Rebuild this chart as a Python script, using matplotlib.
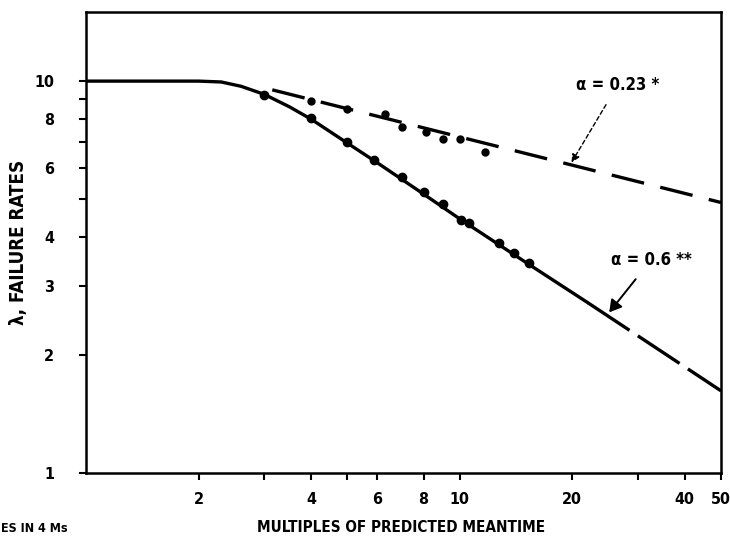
import matplotlib.pyplot as plt
from matplotlib.ticker import FixedLocator, NullFormatter, FixedFormatter

# fitted curve, alpha = 0.6 (solid part, then projected)
fit6_x = [1, 1.5, 2, 2.3, 2.6, 3, 3.5, 4, 5, 6, 8, 10, 15, 22]
fit6_y = [10, 10, 10, 9.95, 9.7, 9.25, 8.6, 8.0, 6.95, 6.2, 5.15, 4.45, 3.45, 2.72]
proj6_x = [22, 50]
proj6_y = [2.72, 1.62]

# fitted line, alpha = 0.23
fit23_x = [3.15, 50]
fit23_y = [9.5, 4.9]

# observed failure rates
obs6_x = [3.0, 4.0, 5.0, 5.9, 7.0, 8.0, 9.0, 10.1, 10.6, 12.7, 14.0, 15.3]
obs6_y = [9.2, 8.05, 7.0, 6.3, 5.7, 5.2, 4.85, 4.42, 4.34, 3.86, 3.64, 3.43]
obs23_x = [4.0, 5.0, 6.3, 7.0, 8.1, 9.0, 10.0, 11.7]
obs23_y = [8.9, 8.5, 8.25, 7.65, 7.4, 7.1, 7.1, 6.6]

x_ticks = [2, 3, 4, 5, 6, 8, 10, 20, 30, 40, 50]
x_labels = ['2', '', '4', '', '6', '8', '10', '20', '', '40', '50']
y_ticks = [1, 2, 3, 4, 5, 6, 7, 8, 9, 10]
y_labels = ['1', '2', '3', '4', '', '6', '', '8', '', '10']

font = dict(family='DejaVu Sans', weight='bold', stretch='condensed')

fig = plt.figure(figsize=(7.3, 5.58), dpi=100)
ax = fig.add_axes([0.1178, 0.1523, 0.870, 0.826])
ax.set_xscale('log')
ax.set_yscale('log')

ax.plot(fit6_x, fit6_y, color='black', lw=2.4, solid_capstyle='round')
ax.plot(proj6_x, proj6_y, color='black', lw=2.4, dashes=(15, 3))
ax.plot(fit23_x, fit23_y, color='black', lw=2.4, dashes=(10, 5))
ax.plot(obs6_x, obs6_y, 'o', color='black', ms=6)
ax.plot(obs23_x, obs23_y, 'o', color='black', ms=5)

ax.annotate('α = 0.23 *', xy=(19.9, 6.2), xytext=(26.5, 9.8),
            fontsize=12, ha='center', va='center', **font,
            arrowprops=dict(arrowstyle='-|>', color='black', lw=1.0,
                            linestyle=(0, (3, 2)), shrinkA=7, shrinkB=0))
ax.annotate('α = 0.6 **', xy=(25.1, 2.57), xytext=(32.5, 3.5),
            fontsize=12, ha='center', va='center', **font,
            arrowprops=dict(arrowstyle='-|>,head_width=0.35,head_length=0.6',
                            color='black', lw=1.4, shrinkA=7, shrinkB=0))

ax.set_xlim(1, 50)
ax.set_ylim(1, 15)

ax.xaxis.set_major_locator(FixedLocator(x_ticks))
ax.xaxis.set_major_formatter(FixedFormatter(x_labels))
ax.xaxis.set_minor_formatter(NullFormatter())
ax.xaxis.set_minor_locator(FixedLocator([]))
ax.yaxis.set_major_locator(FixedLocator(y_ticks))
ax.yaxis.set_major_formatter(FixedFormatter(y_labels))
ax.yaxis.set_minor_formatter(NullFormatter())
ax.yaxis.set_minor_locator(FixedLocator([]))

ax.tick_params(axis='x', direction='out', length=5, width=1.5, pad=9)
ax.tick_params(axis='y', direction='out', length=5, width=1.5, pad=18)
for lab in ax.get_xticklabels() + ax.get_yticklabels():
    lab.set_fontsize(11.5)
    lab.set_fontweight('bold')
    lab.set_fontstretch('condensed')

for sp in ax.spines.values():
    sp.set_linewidth(1.8)

ax.set_ylabel('λ, FAILURE RATES', fontsize=13.5, labelpad=4, **font)
fig.text(401 / 730, 1 - 528 / 558, 'MULTIPLES OF PREDICTED MEANTIME',
         ha='center', va='center', fontsize=11, **font)
fig.text(1 / 730, 1 - 528 / 558, 'ES IN 4 Ms',
         ha='left', va='center', fontsize=9, **font)

fig.savefig('out.png', dpi=100)
